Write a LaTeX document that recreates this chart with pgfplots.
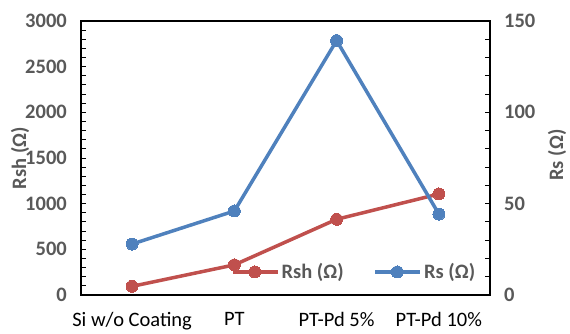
\documentclass[border=0pt]{standalone}
\usepackage{pgfplots}
\pgfplotsset{compat=1.18}
\usepackage{fontspec}
\setmainfont{Carlito}
\definecolor{rshred}{HTML}{C0504D}
\definecolor{rsblue}{HTML}{4F81BD}
\definecolor{txtgray}{HTML}{595959}

\pgfplotsset{
  base/.style={
    at={(81pt,38pt)}, anchor=south west,
    scale only axis, width=409pt, height=274pt,
    xmin=-0.5, xmax=3.5,
    /pgf/number format/assume math mode=true,
    /pgf/number format/1000 sep={},
    tick align=inside,
    major tick length=5pt, minor tick length=5pt,
    every tick/.style={black, line width=1pt},
    axis line style={line width=1.5pt},
    tick label style={font=\fontsize{20.5}{24}\selectfont},
    label style={font=\fontsize{20.5}{24}\selectfont\bfseries, text=txtgray},
  },
}

\begin{document}
\begin{tikzpicture}
  % fixed page frame
  \path (0,0) rectangle (570pt,333pt);

  % left axis: shunt resistance
  \begin{axis}[base,
      ymin=0, ymax=3000,
      ytick={0,500,...,3000}, minor y tick num=4,
      ytick pos=left,
      xtick={0,1,2,3},
      xticklabels={Si w/o Coating, PT, PT-Pd 5\%, PT-Pd 10\%},
      xtick style={draw=none},
      xticklabel style={anchor=north, inner sep=0pt, yshift=-17pt},
      yticklabel style={anchor=east, inner sep=0pt, xshift=-14pt, text=txtgray, font=\fontsize{20.5}{24}\selectfont\bfseries},
      ylabel={Rsh (Ω)},
      ylabel style={at={(axis description cs:0,0.5)}, anchor=center, yshift=61pt},
    ]
    \addplot[rshred, line width=3.5pt, mark=*, mark size=6pt, mark options={fill=rshred, draw=rshred, line width=0pt}]
      coordinates {(0,95) (1,330) (2,829) (3,1106)};
  \end{axis}

  % right axis: series resistance
  \begin{axis}[base,
      ymin=0, ymax=150,
      ytick={0,50,...,150}, minor y tick num=4,
      axis y line*=right, axis x line=none,
      yticklabel style={anchor=west, inner sep=0pt, xshift=14pt, text=txtgray, font=\fontsize{20.5}{24}\selectfont\bfseries},
      ylabel={Rs (Ω)},
      ylabel style={at={(axis description cs:1,0.5)}, anchor=center, yshift=-67pt, xshift=3pt},
      legend columns=2,
      legend style={draw=none, fill=none, at={(0.359,0.084)}, anchor=west,
        font=\fontsize{20.5}{24}\selectfont\bfseries, text=txtgray,
        /tikz/every even column/.append style={column sep=28pt}},
      legend image code/.code={
        \draw[#1, mark repeat=2, mark phase=2] plot coordinates {(0pt,0pt) (22pt,0pt) (45pt,0pt)};
      },
    ]
    \addlegendimage{rshred, line width=3.5pt, mark=*, mark size=6pt, mark options={fill=rshred, draw=rshred, line width=0pt}}
    \addlegendentry{Rsh (Ω)}
    \addplot[rsblue, line width=3.5pt, mark=*, mark size=6pt, mark options={fill=rsblue, draw=rsblue, line width=0pt}]
      coordinates {(0,27.9) (1,46) (2,139.3) (3,44.3)};
    \addlegendentry{Rs (Ω)}
  \end{axis}
\end{tikzpicture}
\end{document}
